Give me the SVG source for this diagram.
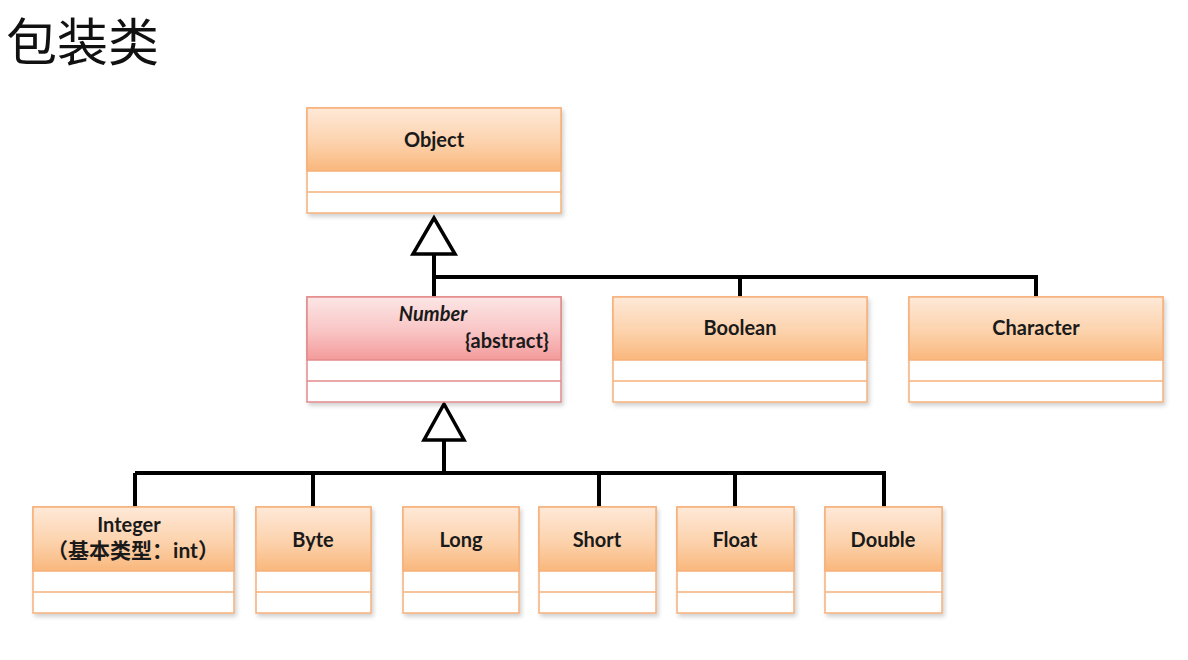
<svg xmlns="http://www.w3.org/2000/svg" width="1188" height="660" viewBox="0 0 1188 660">
<defs>
<linearGradient id="gO" x1="0" y1="0" x2="0" y2="1">
<stop offset="0" stop-color="#fee9d8"/>
<stop offset="0.55" stop-color="#fcd2ac"/>
<stop offset="1" stop-color="#f9b77c"/>
</linearGradient>
<linearGradient id="gP" x1="0" y1="0" x2="0" y2="1">
<stop offset="0" stop-color="#fde6e6"/>
<stop offset="0.55" stop-color="#f9c4c4"/>
<stop offset="1" stop-color="#f49a9a"/>
</linearGradient>
<filter id="sh" x="-5%" y="-5%" width="110%" height="115%">
<feDropShadow dx="2" dy="3" stdDeviation="2" flood-color="#000" flood-opacity="0.18"/>
</filter>
</defs>
<style>
.box{fill:#fff;stroke:#f6b07a;stroke-width:1.5;filter:url(#sh)}
.hd{fill:url(#gO);stroke:#f6b07a;stroke-width:1.5}
.ln{stroke:#f6b07a;stroke-width:1.5}
.boxp{fill:#fff;stroke:#e38a8a;stroke-width:1.5;filter:url(#sh)}
.hdp{fill:url(#gP);stroke:#e38a8a;stroke-width:1.5}
.lnp{stroke:#e38a8a;stroke-width:1.5}
.t{font-family:Lato,"Open Sans","Noto Sans CJK SC",sans-serif;font-weight:bold;font-size:20px;fill:#1a1a1a;text-anchor:middle}
.c{fill:none;stroke:#000;stroke-width:4}
.tri{fill:#fff;stroke:#000;stroke-width:3.5;stroke-linejoin:miter}
</style>
<rect width="1188" height="660" fill="#fff"/>
<text x="6" y="61" font-family="'Noto Sans CJK SC',sans-serif" font-size="51" fill="#111">包装类</text>

<g id="connectors">
<path class="c" d="M434 254 V297 M434 277 H1036 V297 M740 277 V297"/>
<polygon class="tri" points="434,218 413,254 455,254"/>
<path class="c" d="M444 440 V473 M135 473 H884 V507 M135 473 V507 M313 473 V507 M599 473 V507 M735 473 V507"/>
<polygon class="tri" points="444,404 424,440 464,440"/>
</g>

<g id="Object">
<rect class="box" x="307" y="108" width="254" height="105"/>
<rect class="hd" x="307" y="108" width="254" height="63"/>
<line class="ln" x1="307" y1="192" x2="561" y2="192"/>
<text class="t" x="434" y="147">Object</text>
</g>

<g id="Number">
<rect class="boxp" x="307" y="297" width="254" height="105"/>
<rect class="hdp" x="307" y="297" width="254" height="63"/>
<line class="lnp" x1="307" y1="381" x2="561" y2="381"/>
<text class="t" x="433" y="321" font-style="italic">Number</text>
<text class="t" x="549" y="348" style="text-anchor:end">{abstract}</text>
</g>

<g id="Boolean">
<rect class="box" x="613" y="297" width="254" height="105"/>
<rect class="hd" x="613" y="297" width="254" height="63"/>
<line class="ln" x1="613" y1="381" x2="867" y2="381"/>
<text class="t" x="740" y="335">Boolean</text>
</g>

<g id="Character">
<rect class="box" x="909" y="297" width="254" height="105"/>
<rect class="hd" x="909" y="297" width="254" height="63"/>
<line class="ln" x1="909" y1="381" x2="1163" y2="381"/>
<text class="t" x="1036" y="335">Character</text>
</g>

<g id="Integer">
<rect class="box" x="33" y="507" width="201" height="106"/>
<rect class="hd" x="33" y="507" width="201" height="64"/>
<line class="ln" x1="33" y1="592" x2="234" y2="592"/>
<text class="t" x="129" y="532">Integer</text>
<text class="t" x="133" y="558" style="font-size:21px">（基本类型：int）</text>
</g>

<g id="Byte">
<rect class="box" x="256" y="507" width="115" height="106"/>
<rect class="hd" x="256" y="507" width="115" height="64"/>
<line class="ln" x1="256" y1="592" x2="371" y2="592"/>
<text class="t" x="313" y="547">Byte</text>
</g>

<g id="Long">
<rect class="box" x="403" y="507" width="116" height="106"/>
<rect class="hd" x="403" y="507" width="116" height="64"/>
<line class="ln" x1="403" y1="592" x2="519" y2="592"/>
<text class="t" x="461" y="547">Long</text>
</g>

<g id="Short">
<rect class="box" x="539" y="507" width="117" height="106"/>
<rect class="hd" x="539" y="507" width="117" height="64"/>
<line class="ln" x1="539" y1="592" x2="656" y2="592"/>
<text class="t" x="597" y="547">Short</text>
</g>

<g id="Float">
<rect class="box" x="677" y="507" width="117" height="106"/>
<rect class="hd" x="677" y="507" width="117" height="64"/>
<line class="ln" x1="677" y1="592" x2="794" y2="592"/>
<text class="t" x="735" y="547">Float</text>
</g>

<g id="Double">
<rect class="box" x="825" y="507" width="117" height="106"/>
<rect class="hd" x="825" y="507" width="117" height="64"/>
<line class="ln" x1="825" y1="592" x2="942" y2="592"/>
<text class="t" x="883" y="547">Double</text>
</g>
</svg>
